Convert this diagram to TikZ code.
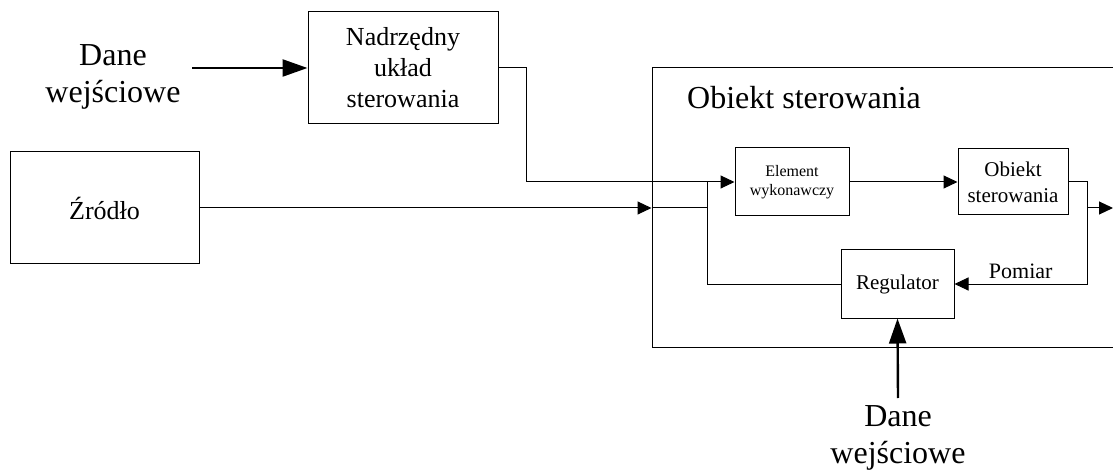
\documentclass[tikz,border=0pt]{standalone}
\usepackage{fontspec}
\setmainfont{LiberationSerif}[Extension=.ttf, UprightFont=*-Regular, BoldFont=*-Bold]
\usetikzlibrary{arrows.meta}

\begin{document}
\begin{tikzpicture}[x=1pt, y=-1pt,
    blok/.style={rectangle, draw, line width=1pt, align=center, inner sep=0pt, font=\fontsize{21}{26}\selectfont},
    opis/.style={align=center, inner sep=0pt, font=\fontsize{32}{37}\selectfont},
    lin/.style={line width=1pt},
    pol/.style={line width=1pt, -{Triangle[length=14pt,width=13pt]}},
    wej/.style={line width=2.4pt, -{Triangle[length=25pt,width=17pt]}}]
  \useasboundingbox (0,0) rectangle (1113,470);

  \node[blok, minimum width=190pt, minimum height=112pt, font=\fontsize{26}{31}\selectfont] (nadrz) at (403,68) {Nadrzędny\\układ\\sterowania};
  \node[blok, minimum width=189pt, minimum height=112pt, font=\fontsize{26}{31}\selectfont] (zrodlo) at (104.5,208) {Źródło};
  \node[blok, minimum width=478pt, minimum height=279pt] (obszar) at (891,207.5) {};
  \node[opis, anchor=base west] (tytul) at (687,109) {Obiekt sterowania};
  \node[blok, minimum width=114pt, minimum height=68pt, font=\fontsize{16}{19}\selectfont] (elem) at (792,182) {Element\\wykonawczy};
  \node[blok, minimum width=110pt, minimum height=66pt] (obiekt) at (1013,182) {Obiekt\\sterowania};
  \node[blok, minimum width=113pt, minimum height=68pt] (reg) at (897.5,284) {Regulator};
  \node[opis] (dane1) at (113,77) {Dane\\wejściowe};
  \node[opis] (dane2) at (898,438) {Dane\\wejściowe};

  \coordinate (wej1) at (192,68);
  \coordinate (wej2) at (898,398);
  \coordinate (k1) at (526,182);
  \coordinate (k2) at (707,182);
  \coordinate (k3) at (1087,284);
  \coordinate (k4) at (1087,208);
  \coordinate (wyj) at (1113,208);

  \draw[wej] (wej1) -- (nadrz.west);
  \draw[wej] (wej2) -- (reg.south);
  \draw[pol] (nadrz.east) -| (k1) -- (elem.west);
  \draw[pol] (zrodlo.east) -- (zrodlo.east -| obszar.west);
  \draw[lin] (zrodlo.east -| obszar.west) -| (k2);
  \draw[lin] (reg.west) -| (k2);
  \draw[pol] (elem.east) -- (obiekt.west);
  \draw[pol] (obiekt.east) -| (k3) -- (reg.east)
    node[pos=0.5, above=1pt, font=\fontsize{22}{26}\selectfont] (pomiar) {Pomiar};
  \draw[pol] (k4) -- (wyj);
\end{tikzpicture}
\end{document}
